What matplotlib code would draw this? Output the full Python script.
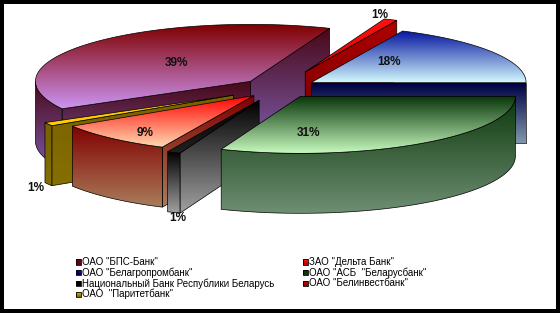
import numpy as np
import matplotlib
matplotlib.use("Agg")
import matplotlib.pyplot as plt
from matplotlib.patches import Polygon
from matplotlib.colors import to_rgba

# ---------------- data ----------------
banks = ['ОАО "БПС-Банк"', 'ЗАО "Дельта Банк"', 'ОАО "Белагропромбанк"',
         'ОАО "АСБ  "Беларусбанк"', 'Национальный Банк Республики Беларусь',
         'ОАО "Белинвестбанк"', 'ОАО  "Паритетбанк"']
shares = [39, 1, 18, 31, 1, 9, 1]
pct_labels = ['39%', '1%', '18%', '31%', '1%', '9%', '1%']

# ---------------- style ----------------
top_cols = [('#800000', '#cc94f2'), ('#ff1010', '#e00000'), ('#0818a0', '#d4faff'),
            ('#0a360a', '#c4f8bc'), ('#000000', '#202020'), ('#ff0000', '#ffd8b0'),
            ('#ffcc00', '#ffcc00')]
wall_cols = [('#4a0818', '#7a5aa8'), ('#b00000', '#700000'), ('#000044', '#8098aa'),
             ('#0c380c', '#6e8e72'), ('#000000', '#a0a0a0'), ('#800000', '#aa7c5a'),
             ('#7a6000', '#867000')]
explode = [38, 66, 38, 38, 50, 38, 53]
label_inside = [True, False, True, True, False, True, False]
label_nudge = [(7, 1), (-11, -5), (-13, -5), (-52, 13), (4, 6), (-38, 16), (-13, 4)]

CX, CY = 279.0, 88.0
RX, RY = 215.0, 57.0
DEPTH = 60.0
START = 208.8  # angle (deg, ccw from 3 o'clock) where first slice begins; slices run clockwise

W, H = 560, 313
fig = plt.figure(figsize=(W / 100, H / 100), dpi=100, facecolor='black')
ax = fig.add_axes([4 / W, 4 / H, (W - 8) / W, (H - 8) / H])
ax.set_facecolor('white')
for s in ax.spines.values():
    s.set_visible(False)
ax.set_xticks([])
ax.set_yticks([])

zc = [1.0]


def grad_poly(pts, c_top, c_bot, lw=0.5):
    pts = np.asarray(pts, float)
    z = zc[0]
    zc[0] += 1
    x0, x1 = pts[:, 0].min(), pts[:, 0].max()
    y0, y1 = pts[:, 1].min(), pts[:, 1].max()
    if y1 - y0 < 0.5:
        y1 = y0 + 0.5
    t = np.linspace(0, 1, 64)[:, None]
    c0 = np.array(to_rgba(c_top))
    c1 = np.array(to_rgba(c_bot))
    img = (c0 * (1 - t) + c1 * t)[:, None, :]
    im = ax.imshow(img, extent=(x0, x1, y1, y0), origin='upper', aspect='auto',
                   zorder=z, interpolation='bilinear')
    clip = Polygon(pts, closed=True, transform=ax.transData)
    im.set_clip_path(clip)
    ax.add_patch(Polygon(pts, closed=True, facecolor='none', edgecolor='black',
                         lw=lw, zorder=z + 0.5))


total = float(sum(shares))
slices = []
acc = 0.0
for i, v in enumerate(shares):
    a_hi = START - 360.0 * acc / total
    a_lo = a_hi - 360.0 * v / total
    acc += v
    m = np.radians((a_lo + a_hi) / 2)
    ex = CX + explode[i] * np.cos(m)
    ey = CY - explode[i] * (RY / RX) * np.sin(m)
    slices.append(dict(i=i, lo=a_lo, hi=a_hi, mid=(a_lo + a_hi) / 2, ax=ex, ay=ey))


def rim(s, ang, z=0.0):
    r = np.radians(ang)
    return (s['ax'] + RX * np.cos(r), s['ay'] - RY * np.sin(r) + z)


def contains(s, ang):
    for k in (-1, 0, 1):
        if s['lo'] <= ang + 360 * k <= s['hi']:
            return True
    return False


def order_key(s):
    if contains(s, 270):
        return 1e9
    if contains(s, 90):
        return 0
    d = []
    for a in (s['lo'], s['hi']):
        dd = abs((a - 90 + 180) % 360 - 180)
        d.append(dd)
    return min(d)


# ---- walls (back to front) ----
for s in sorted(slices, key=order_key):
    ct, cb = wall_cols[s['i']]
    apex = (s['ax'], s['ay'])
    for a, vis in ((s['lo'], np.cos(np.radians(s['lo'])) > 0),
                   (s['hi'], np.cos(np.radians(s['hi'])) < 0)):
        if vis:
            p = rim(s, a)
            pts = [apex, p, (p[0], p[1] + DEPTH), (apex[0], apex[1] + DEPTH)]
            grad_poly(pts, ct, cb)
    for k in (-1, 0, 1):
        lo = max(s['lo'], -180 + 360 * k)
        hi = min(s['hi'], 0 + 360 * k)
        if hi > lo:
            angs = np.linspace(lo, hi, 60)
            top = [rim(s, a) for a in angs]
            bot = [rim(s, a, DEPTH) for a in angs[::-1]]
            grad_poly(top + bot, ct, cb)

# ---- top faces ----
for s in slices:
    ct, cb = top_cols[s['i']]
    angs = np.linspace(s['lo'], s['hi'], max(8, int((s['hi'] - s['lo']) * 2)))
    pts = [(s['ax'], s['ay'])] + [rim(s, a) for a in angs]
    grad_poly(pts, ct, cb)

# ---- percentage labels ----
for s in slices:
    i = s['i']
    m = np.radians(s['mid'])
    if label_inside[i]:
        x = s['ax'] + 0.5 * RX * np.cos(m)
        y = s['ay'] - 0.5 * RY * np.sin(m)
    else:
        x, y = rim(s, s['mid'], DEPTH if np.sin(m) < 0 else 0.0)
    x += label_nudge[i][0]
    y += label_nudge[i][1]
    ax.text(x, y, pct_labels[i], ha='center', va='center', fontsize=8.5,
            fontweight='bold', family='Liberation Sans', color='#111111', zorder=500)

# ---- legend ----
for i, name in enumerate(banks):
    col, row = i % 2, i // 2
    lx = 75.5 + col * 227.5
    ly = 262 + row * 10.7
    ct, cb = top_cols[i]
    grad_poly([(lx, ly - 2.6), (lx + 5, ly - 2.6), (lx + 5, ly + 2.6), (lx, ly + 2.6)],
              ct, wall_cols[i][0], lw=0.6)
    ax.text(lx + 6, ly, name, ha='left', va='center', fontsize=7,
            family='Liberation Sans', color='black', zorder=500)

ax.set_xlim(4, W - 4)
ax.set_ylim(H - 4, 4)
fig.savefig('out.png', dpi=100, facecolor='black')
